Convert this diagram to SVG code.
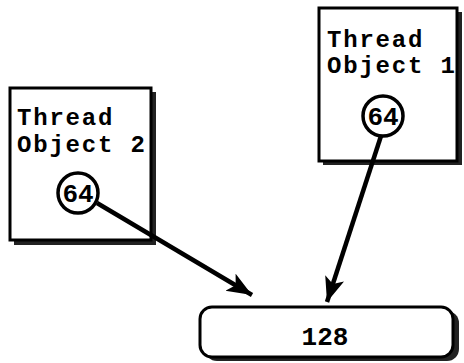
<svg xmlns="http://www.w3.org/2000/svg" width="464" height="363" viewBox="0 0 464 363">
<style>
.shadow{fill:#222;}
.box{fill:#fff;stroke:#000;stroke-width:3;}
.lbl{font-family:"Liberation Mono","Courier New",monospace;font-weight:bold;font-size:24px;letter-spacing:1.8px;fill:#000;}
.num{font-family:"Liberation Mono","Courier New",monospace;font-weight:bold;font-size:26px;fill:#000;text-anchor:middle;}
.circ{fill:#fff;stroke:#000;stroke-width:3.5;}
.conn{stroke:#000;stroke-width:4.5;fill:none;}
</style>
<defs>
<marker id="arr" markerUnits="userSpaceOnUse" markerWidth="28" markerHeight="22" refX="25" refY="10" orient="auto">
<path d="M0,0 L25,10 L0,20 L6,10 Z" fill="#000"/>
</marker>
</defs>
<rect width="464" height="363" fill="#fff"/>
<g id="thread2">
<rect class="shadow" x="14" y="92" width="142" height="153"/>
<rect class="box" x="10" y="88" width="141" height="152"/>
<text class="lbl" x="17" y="125">Thread</text>
<text class="lbl" x="17" y="152">Object 2</text>
</g>
<g id="thread1">
<rect class="shadow" x="323" y="12" width="139" height="153"/>
<rect class="box" x="319" y="8" width="138" height="153"/>
<text class="lbl" x="327" y="47">Thread</text>
<text class="lbl" x="327" y="73">Object 1</text>
</g>
<g id="result">
<rect class="shadow" x="205" y="311" width="254" height="50" rx="12"/>
<rect class="box" x="200" y="307" width="253" height="50" rx="12"/>
<text class="num" x="325" y="345">128</text>
</g>
<g id="connectors">
<line class="conn" x1="97" y1="203" x2="252" y2="295" marker-end="url(#arr)"/>
<line class="conn" x1="381" y1="136" x2="327" y2="302" marker-end="url(#arr)"/>
</g>
<g id="value2">
<circle class="circ" cx="78" cy="193" r="20"/>
<text class="num" x="78" y="202">64</text>
</g>
<g id="value1">
<circle class="circ" cx="383" cy="116" r="20"/>
<text class="num" x="383" y="125">64</text>
</g>
</svg>
